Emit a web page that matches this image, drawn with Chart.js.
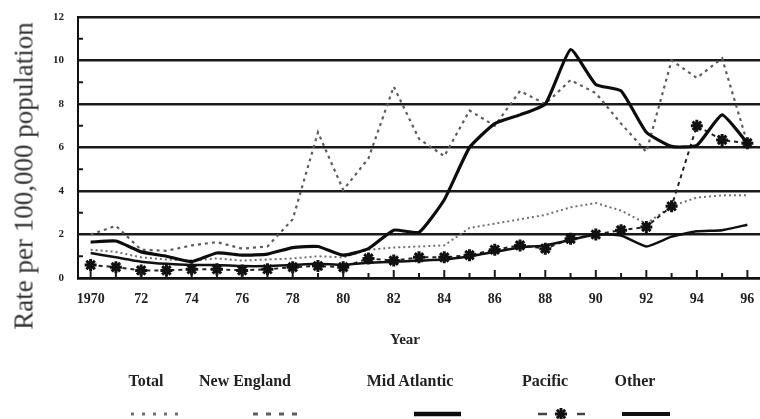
<!DOCTYPE html>
<html>
<head>
<meta charset="utf-8">
<script src="https://cdn.jsdelivr.net/npm/chart.js@4.4.1/dist/chart.umd.min.js"></script>
<style>
  html, body { margin:0; padding:0; background:#fff; }
  #wrap { position:relative; width:760px; height:419px; overflow:hidden; background:#fff; }
  #c { position:absolute; left:0; top:0; }
  .txt { position:absolute; transform:translate(-50%,-50%); white-space:nowrap; font-family:"Liberation Serif","Times New Roman",serif; color:#222; }
  .leg { font-weight:bold; font-size:16px; }
  #ytitle { font-size:27px; color:#333; transform:translate(-50%,-50%) rotate(-90deg); }
  #xtitle { font-weight:bold; font-size:15px; }
  #legsvg { position:absolute; left:0; top:0; }
</style>
</head>
<body>
<div id="wrap">
  <canvas id="c" width="760" height="419"></canvas>
  <div class="txt" id="ytitle" style="left:24px; top:176px;">Rate per 100,000 population</div>
  <div class="txt" id="xtitle" style="left:405px; top:339px;">Year</div>
  <div id="legend"></div>
  <svg id="legsvg" width="760" height="419"></svg>
</div>
<script>
// ---- data ----
const years = [1970,1971,1972,1973,1974,1975,1976,1977,1978,1979,1980,1981,1982,1983,1984,1985,1986,1987,1988,1989,1990,1991,1992,1993,1994,1995,1996];
const seriesNames = ["Total","New England","Mid Atlantic","Pacific","Other"];
const total       = [1.3,1.2,0.95,0.85,0.8,0.9,0.8,0.85,0.9,1.0,0.95,1.3,1.4,1.45,1.5,2.3,2.5,2.7,2.9,3.25,3.45,3.1,2.5,3.3,3.7,3.8,3.8];
const newEngland  = [2.0,2.4,1.3,1.25,1.5,1.65,1.35,1.45,2.7,6.7,4.05,5.5,8.8,6.4,5.6,7.7,7.0,8.6,8.0,9.1,8.5,7.1,5.8,10.0,9.2,10.1,6.2];
const midAtlantic = [1.65,1.7,1.2,1.0,0.75,1.15,1.05,1.1,1.4,1.45,1.05,1.35,2.2,2.1,3.6,6.0,7.1,7.5,8.0,10.5,8.9,8.6,6.7,6.05,6.1,7.5,6.2];
const pacific     = [0.6,0.5,0.35,0.35,0.4,0.4,0.35,0.4,0.5,0.55,0.5,0.9,0.8,0.95,0.95,1.05,1.3,1.5,1.35,1.8,2.0,2.2,2.35,3.3,7.0,6.35,6.2];
const other       = [1.15,0.95,0.75,0.65,0.6,0.6,0.55,0.55,0.6,0.65,0.6,0.7,0.75,0.8,0.85,1.0,1.2,1.4,1.5,1.75,2.0,1.95,1.45,1.9,2.15,2.2,2.45];
const yTicks = [0,2,4,6,8,10,12];

// ---- minor tick plugin ----
const minorTicks = {
  id: 'minorTicks',
  afterDatasetsDraw(chart) {
    const {ctx, chartArea: a, scales: {x, y}} = chart;
    ctx.save();
    ctx.strokeStyle = '#1a1a1a';
    ctx.lineWidth = 2;
    years.forEach((yr, i) => {
      const px = x.getPixelForValue(i);
      const len = (yr % 2 === 0) ? 8 : 5;
      ctx.beginPath(); ctx.moveTo(px, a.bottom); ctx.lineTo(px, a.bottom - len); ctx.stroke();
    });
    for (let v = 1; v < 12; v += 2) {
      const py = y.getPixelForValue(v);
      ctx.beginPath(); ctx.moveTo(a.left, py); ctx.lineTo(a.left + 5, py); ctx.stroke();
    }
    ctx.restore();
  }
};

const ctx = document.getElementById('c').getContext('2d');
new Chart(ctx, {
  type: 'line',
  data: {
    labels: years,
    datasets: [
      { label: seriesNames[0], data: total, borderColor: '#707070', borderWidth: 2, borderDash: [2,3], pointRadius: 0, tension: 0, order: 5 },
      { label: seriesNames[1], data: newEngland, borderColor: '#5e5e5e', borderWidth: 2.2, borderDash: [3,4], pointRadius: 0, tension: 0, order: 4 },
      { label: seriesNames[3], data: pacific, borderColor: '#222', borderWidth: 2, borderDash: [4,4], pointStyle: 'star', pointRadius: 6, pointBorderWidth: 3, pointBorderColor: '#111', pointBackgroundColor: '#111', tension: 0, order: 3 },
      { label: seriesNames[4], data: other, borderColor: '#111', borderWidth: 2.5, pointRadius: 0, tension: 0.15, order: 2 },
      { label: seriesNames[2], data: midAtlantic, borderColor: '#0d0d0d', borderWidth: 3.2, pointRadius: 0, tension: 0.15, order: 1 }
    ]
  },
  options: {
    responsive: false,
    animation: false,
    devicePixelRatio: 1,
    layout: { autoPadding: false, padding: { top: 17, left: 0, right: 0, bottom: 0 } },
    plugins: { legend: { display: false }, tooltip: { enabled: false }, title: { display: false } },
    scales: {
      x: {
        type: 'category',
        offset: true,
        grid: { display: false, drawTicks: true, tickLength: 13 },
        border: { display: true, color: '#111', width: 2.5 },
        ticks: {
          autoSkip: false, maxRotation: 0, minRotation: 0, padding: 0,
          color: '#222',
          font: { family: 'Liberation Serif', weight: 'bold', size: 14 },
          callback: function(val, idx) {
            const yr = years[idx];
            if (yr % 2 !== 0) return '';
            return idx === 0 ? String(yr) : String(yr).slice(2);
          }
        },
        afterFit: s => { s.height = 141; s.paddingLeft = 0; s.paddingRight = 0; }
      },
      y: {
        min: 0, max: 12,
        afterBuildTicks: s => { s.ticks = yTicks.map(v => ({ value: v })); },
        grid: { color: '#1a1a1a', lineWidth: 2.5, drawTicks: false },
        border: { display: true, color: '#111', width: 2 },
        ticks: {
          padding: 14, color: '#222',
          font: { family: 'Liberation Serif', weight: 'bold', size: 11 }
        },
        afterFit: s => { s.width = 78; s.paddingTop = 0; s.paddingBottom = 0; }
      }
    }
  },
  plugins: [minorTicks]
});

// ---- legend (labels above samples) ----
const legendLabelPos = [146, 245, 410, 545, 635];
const legendNames = ["Total","New England","Mid Atlantic","Pacific","Other"];
const legEl = document.getElementById('legend');
legendNames.forEach((n, i) => {
  const d = document.createElement('div');
  d.className = 'txt leg';
  d.style.left = legendLabelPos[i] + 'px';
  d.style.top = '381px';
  d.textContent = n;
  legEl.appendChild(d);
});
const svg = document.getElementById('legsvg');
const NS = 'http://www.w3.org/2000/svg';
function ln(x1, y1, x2, y2, col, w, dash) {
  const l = document.createElementNS(NS, 'line');
  l.setAttribute('x1', x1); l.setAttribute('y1', y1); l.setAttribute('x2', x2); l.setAttribute('y2', y2);
  l.setAttribute('stroke', col); l.setAttribute('stroke-width', w);
  if (dash) l.setAttribute('stroke-dasharray', dash);
  svg.appendChild(l);
}
const sy = 414;
ln(131, sy, 181, sy, '#707070', 3, '3,8');      // Total
ln(253, sy, 300, sy, '#5e5e5e', 3, '5,8');      // New England
ln(414, sy, 461, sy, '#0d0d0d', 4.5);            // Mid Atlantic
ln(538, sy, 547, sy, '#444', 2.5);               // Pacific dash
ln(577, sy, 585, sy, '#444', 2.5);
const sc = 561, r = 6;                            // Pacific star
ln(sc - r, sy, sc + r, sy, '#111', 3);
ln(sc, sy - r, sc, sy + r, '#111', 3);
ln(sc - r*0.7, sy - r*0.7, sc + r*0.7, sy + r*0.7, '#111', 3);
ln(sc - r*0.7, sy + r*0.7, sc + r*0.7, sy - r*0.7, '#111', 3);
ln(622, sy, 670, sy, '#111', 4);                  // Other
</script>
</body>
</html>
